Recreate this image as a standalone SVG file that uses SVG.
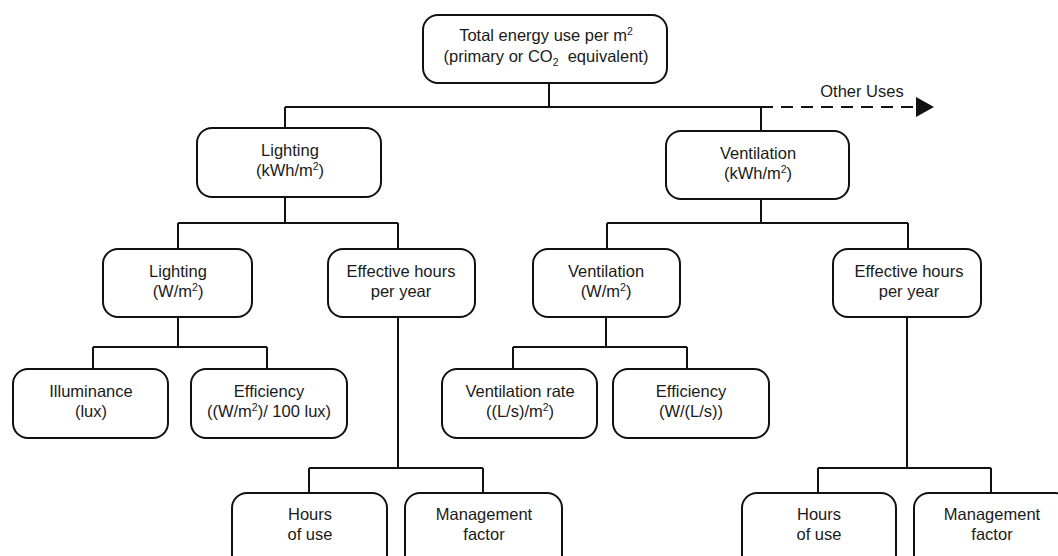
<svg xmlns="http://www.w3.org/2000/svg" width="1058" height="556" viewBox="0 0 1058 556">
<style>
.box{fill:#fff;stroke:#111;stroke-width:2}
.t{font-family:"Liberation Sans",Arial,sans-serif;font-size:16.5px;fill:#1a1a1a;text-anchor:middle}
.sup{font-size:10.5px}
.c{fill:none;stroke:#111;stroke-width:2}
.d{fill:none;stroke:#111;stroke-width:2;stroke-dasharray:12 8}
</style>
<defs>
<marker id="arr" markerWidth="18" markerHeight="20" refX="0" refY="10" orient="auto" markerUnits="userSpaceOnUse">
<path d="M0,0 L18,10 L0,20 Z" fill="#111"/>
</marker>
</defs>
<rect width="1058" height="556" fill="#fff"/>
<g id="connectors">
<path class="c" d="M549,83 V107 M285,107 H761 M285,107 V128 M761,107 V131"/>
<path class="d" d="M761,107 H916" marker-end="url(#arr)"/>
<path class="c" d="M285,197 V223 M178,223 H398 M178,223 V249 M398,223 V249"/>
<path class="c" d="M178,317 V347 M93,347 H267 M93,347 V369 M267,347 V369"/>
<path class="c" d="M398,317 V468 M309,468 H483 M309,468 V493 M483,468 V493"/>
<path class="c" d="M761,199 V223 M607,223 H908 M607,223 V249 M908,223 V249"/>
<path class="c" d="M606,317 V347 M513,347 H687 M513,347 V369 M687,347 V369"/>
<path class="c" d="M907,317 V468 M818,468 H991 M818,468 V493 M991,468 V493"/>
<text class="t" x="862" y="97">Other Uses</text>
</g>
<g id="total">
<rect class="box" x="423" y="15" width="244" height="68" rx="15"/>
<text class="t" x="546" y="41">Total energy use per m<tspan class="sup" dy="-6">2</tspan></text>
<text class="t" x="546" y="62" xml:space="preserve">(primary or CO<tspan class="sup" dy="4">2</tspan><tspan dy="-4">  equivalent)</tspan></text>
</g>
<g id="lighting-kwh">
<rect class="box" x="197" y="128" width="184" height="69" rx="15"/>
<text class="t" x="290" y="156">Lighting</text>
<text class="t" x="290" y="176">(kWh/m<tspan class="sup" dy="-6">2</tspan><tspan dy="6">)</tspan></text>
</g>
<g id="ventilation-kwh">
<rect class="box" x="666" y="131" width="183" height="68" rx="15"/>
<text class="t" x="758" y="159">Ventilation</text>
<text class="t" x="758" y="179">(kWh/m<tspan class="sup" dy="-6">2</tspan><tspan dy="6">)</tspan></text>
</g>
<g id="lighting-w">
<rect class="box" x="103" y="249" width="149" height="68" rx="15"/>
<text class="t" x="178" y="277">Lighting</text>
<text class="t" x="178" y="297">(W/m<tspan class="sup" dy="-6">2</tspan><tspan dy="6">)</tspan></text>
</g>
<g id="eff-hours-l">
<rect class="box" x="328" y="249" width="147" height="68" rx="15"/>
<text class="t" x="401" y="277">Effective hours</text>
<text class="t" x="401" y="297">per year</text>
</g>
<g id="ventilation-w">
<rect class="box" x="533" y="249" width="147" height="68" rx="15"/>
<text class="t" x="606" y="277">Ventilation</text>
<text class="t" x="606" y="297">(W/m<tspan class="sup" dy="-6">2</tspan><tspan dy="6">)</tspan></text>
</g>
<g id="eff-hours-r">
<rect class="box" x="833" y="249" width="148" height="68" rx="15"/>
<text class="t" x="909" y="277">Effective hours</text>
<text class="t" x="909" y="297">per year</text>
</g>
<g id="illuminance">
<rect class="box" x="13" y="369" width="155" height="69" rx="15"/>
<text class="t" x="91" y="397">Illuminance</text>
<text class="t" x="91" y="417">(lux)</text>
</g>
<g id="efficiency-l">
<rect class="box" x="191" y="369" width="156" height="69" rx="15"/>
<text class="t" x="269" y="397">Efficiency</text>
<text class="t" x="269" y="417">((W/m<tspan class="sup" dy="-6">2</tspan><tspan dy="6">)/ 100 lux)</tspan></text>
</g>
<g id="vent-rate">
<rect class="box" x="442" y="369" width="155" height="69" rx="15"/>
<text class="t" x="520" y="397">Ventilation rate</text>
<text class="t" x="520" y="417">((L/s)/m<tspan class="sup" dy="-6">2</tspan><tspan dy="6">)</tspan></text>
</g>
<g id="efficiency-r">
<rect class="box" x="613" y="369" width="156" height="69" rx="15"/>
<text class="t" x="691" y="397">Efficiency</text>
<text class="t" x="691" y="417">(W/(L/s))</text>
</g>
<g id="hours-l">
<rect class="box" x="232" y="493" width="155" height="80" rx="15"/>
<text class="t" x="310" y="520">Hours</text>
<text class="t" x="310" y="540">of use</text>
</g>
<g id="mgmt-l">
<rect class="box" x="405" y="493" width="157" height="80" rx="15"/>
<text class="t" x="484" y="520">Management</text>
<text class="t" x="484" y="540">factor</text>
</g>
<g id="hours-r">
<rect class="box" x="742" y="493" width="154" height="80" rx="15"/>
<text class="t" x="819" y="520">Hours</text>
<text class="t" x="819" y="540">of use</text>
</g>
<g id="mgmt-r">
<rect class="box" x="914" y="493" width="156" height="80" rx="15"/>
<text class="t" x="992" y="520">Management</text>
<text class="t" x="992" y="540">factor</text>
</g>
</svg>
